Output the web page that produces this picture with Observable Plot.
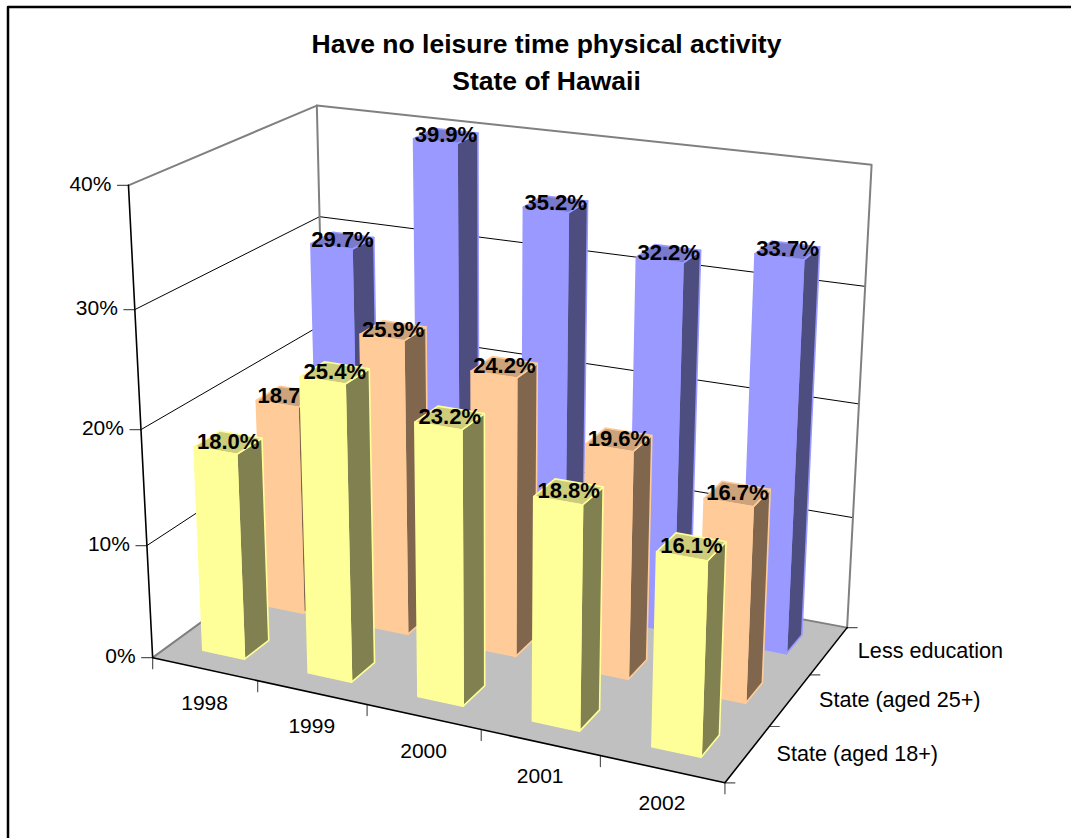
<!DOCTYPE html>
<html><head><meta charset="utf-8">
<script src="https://cdn.jsdelivr.net/npm/d3@7"></script>
<script src="https://cdn.jsdelivr.net/npm/@observablehq/plot@0.6"></script>
<style>html,body{margin:0;padding:0;background:#fff}svg{display:block}</style>
</head><body><div id="chart"></div>
<script>
// ---------- chart data ----------
const years = ["1998","1999","2000","2001","2002"];
const seriesNames = ["State (aged 18+)","State (aged 25+)","Less education"];
const stateAged18 = [18.0,25.4,23.2,18.8,16.1];
const stateAged25 = [18.7,25.9,24.2,19.6,16.7];
const lessEducation = [29.7,39.9,35.2,32.2,33.7];
const valueTicks = [0,10,20,30,40];
const seriesValues = [stateAged18,stateAged25,lessEducation];
const frontColors = ["#FFFF99","#FFCC99","#9999FF"];
const topColors = ["#CCCC7A","#CCA37A","#7A7ACC"];
const sideColors = ["#808050","#80664D","#4D4D80"];

// ---------- camera: 3x4 projection (category, depth, value) -> page, fitted to the picture's frame ----------
const camera = [[0,0,0,153,659],[5,0,0,724,781],[5,3,0,847,627],[0,3,0,326,527],
 [0,0,40,127,185],[0,0,40,127,185],[0,0,40,127,185],[0,3,40,316,105],[5,3,40,872,165],[0,0,30,135,307],[0,0,30,135,307],[0,3,30,319,217],[0,0,20,143,429],[0,0,20,143,429],
 [.3,.3,0,201,652],[.7,.3,0,244,659],[.7,.7,0,268,639],[.3,.3,18,192,447],[.7,.3,18,237,453],[.7,.7,18,260,438],
 [4.3,.3,0,651,748],[4.7,.3,0,701,757],[4.7,.7,0,718,733],[4.7,2.3,0,786,653],[4.7,2.7,0,802,635],
 [4.3,2.3,33.7,752,254],[4.7,2.3,33.7,804,258],[4.7,2.7,33.7,820,247],
 [.3,2.3,29.7,309,245],[.7,2.3,29.7,353,249],[.7,2.7,29.7,374,237]];
function fit(){
  const A=[],b=[];
  for(const [X,Y,Zr,u0,v0] of camera){const Z=Zr/10,u=u0/1000,v=v0/1000;
    A.push([X,Y,Z,1,0,0,0,0,-u*X,-u*Y,-u*Z]);b.push(u);
    A.push([0,0,0,0,X,Y,Z,1,-v*X,-v*Y,-v*Z]);b.push(v);}
  const n=11,M=d3.range(n).map(i=>d3.range(n+1).map(j=>{
    let s=0;for(let r=0;r<A.length;r++)s+=A[r][i]*(j<n?A[r][j]:b[r]);return s;}));
  for(let c=0;c<n;c++){let p=c;for(let r=c+1;r<n;r++)if(Math.abs(M[r][c])>Math.abs(M[p][c]))p=r;
    [M[c],M[p]]=[M[p],M[c]];
    for(let r=0;r<n;r++)if(r!==c){const f=M[r][c]/M[c][c];for(let k=c;k<=n;k++)M[r][k]-=f*M[c][k];}}
  return M.map((r,i)=>r[n]/r[i]);
}
const P=fit();
const proj=(X,Y,Zr)=>{const Z=Zr/10,w=P[8]*X+P[9]*Y+P[10]*Z+1;
  return [1000*(P[0]*X+P[1]*Y+P[2]*Z+P[3])/w,1000*(P[4]*X+P[5]*Y+P[6]*Z+P[7])/w];};

// ---------- marks ----------
const pt=(id,c)=>{const [x,y]=proj(...c);return {id,x,y};};
const poly=(id,cs)=>[...cs,cs[0]].map(c=>pt(id,c));
const seg=(id,...cs)=>cs.map(c=>pt(id,c));
const N=years.length, D=seriesNames.length, Zmax=d3.max(valueTicks);
const face=(rows,fill,stroke,sw=1.6)=>Plot.line(rows,{x:"x",y:"y",z:"id",fill,stroke:stroke||"none",strokeWidth:sw,curve:"linear",strokeLinejoin:"round"});
const wire=(rows,stroke,sw)=>Plot.line(rows,{x:"x",y:"y",z:"id",stroke,strokeWidth:sw,curve:"linear"});

const grid=valueTicks.slice(1,-1).flatMap(t=>seg("g"+t,[0,0,t],[0,D,t],[N,D,t]));
const backFrame=[...seg("top",[0,0,Zmax],[0,D,Zmax],[N,D,Zmax],[N,D,0]),...seg("bl",[0,D,Zmax],[0,D,0])];
const floorBack=[...seg("fb",[0,0,0],[0,D,0],[N,D,0])];
const frontAxes=seg("fa",[N,D,0],[N,0,0],[0,0,0],[0,0,Zmax]);
const tick=(id,c,dx,dy)=>{const [x,y]=proj(...c);return [{id,x,y},{id,x:x+dx,y:y+dy}];};
const ticksK=[
  ...d3.range(0,N+1).flatMap(i=>tick("tx"+i,[i,0,0],0,11)),
  ...d3.range(0,D+1).flatMap(i=>tick("td"+i,[N,i,0],10,0)),
  ...valueTicks.flatMap(t=>tick("tz"+t,[0,0,t],-11,0))];

const barMarks=[];
for(let s=D-1;s>=0;s--){
  const front=[],side=[],top=[],labels=[];
  seriesValues[s].forEach((v,i)=>{
    const x0=i+.3,x1=i+.7,y0=s+.3,y1=s+.7,id=s+"-"+i;
    front.push(...poly(id,[[x0,y0,0],[x1,y0,0],[x1,y0,v],[x0,y0,v]]));
    side.push(...poly(id,[[x1,y0,0],[x1,y1,0],[x1,y1,v],[x1,y0,v]]));
    top.push(...poly(id,[[x0,y0,v],[x1,y0,v],[x1,y1,v],[x0,y1,v]]));
    const [lx,ly]=proj(i+.5,s+.5,v);
    labels.push({lx,ly,t:v.toFixed(1)+"%"});
  });
  barMarks.push(face(side,sideColors[s],frontColors[s]),face(top,topColors[s],frontColors[s]),face(front,frontColors[s],frontColors[s]));
  barMarks.push(Plot.text(labels,{x:"lx",y:"ly",text:"t",fontWeight:"bold",fontSize:22,fill:"#000",dy:-1}));
}
const zLabels=valueTicks.map(t=>{const [x,y]=proj(0,0,t);return {x,y,t:t+"%"};});
const xLabels=years.map((t,i)=>{const [x,y]=proj(i+.5,0,0);return {x,y,t};});
const dLabels=seriesNames.map((t,i)=>{const [x,y]=proj(N,i+.5,0);return {x,y,t};});

const chart=Plot.plot({
  width:1071,height:838,margin:0,
  style:{fontFamily:"'Liberation Sans',Arial,sans-serif",background:"#fff",overflow:"visible"},
  x:{domain:[0,1071],range:[0,1071],axis:null},
  y:{domain:[0,838],range:[0,838],axis:null},
  marks:[
    Plot.line([{x:1071,y:6.5},{x:7.5,y:6.5},{x:7.5,y:838}],{x:"x",y:"y",stroke:"#000",strokeWidth:2.5}),
    face(poly("floor",[[0,0,0],[N,0,0],[N,D,0],[0,D,0]]),"#C0C0C0"),
    wire(grid,"#000",1),
    wire(backFrame,"#808080",2),
    wire(floorBack,"#808080",2),
    wire(ticksK,"#555",1.2),
    wire(frontAxes,"#000",1.6),
    ...barMarks,
    Plot.text(["Have no leisure time physical activity"],{x:()=>546,y:()=>44,text:d=>d,fontWeight:"bold",fontSize:26.5}),
    Plot.text(["State of Hawaii"],{x:()=>546,y:()=>81,text:d=>d,fontWeight:"bold",fontSize:26.5}),
    Plot.text(zLabels,{x:"x",y:"y",text:"t",fontSize:21,textAnchor:"end",dx:-17,dy:-1,fill:"#000"}),
    Plot.text(xLabels,{x:"x",y:"y",text:"t",fontSize:21,dy:34,fill:"#000"}),
    Plot.text(dLabels,{x:"x",y:"y",text:"t",fontSize:21.6,textAnchor:"start",dx:29,fill:"#000"})
  ]
});
document.getElementById("chart").append(chart);
</script></body></html>
